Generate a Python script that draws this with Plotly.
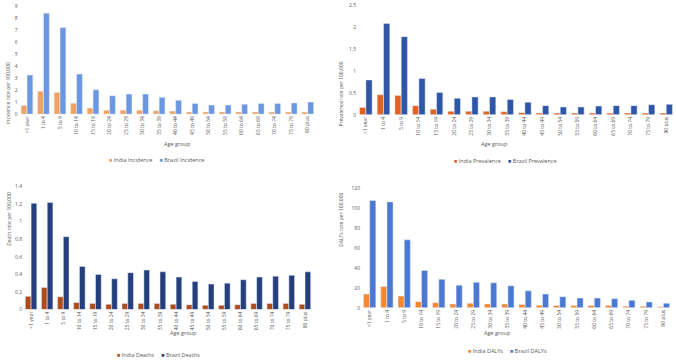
import plotly.graph_objects as go

# age groups shared by all four panels
age_groups = ["<1 year", "1 to 4", "5 to 9", "10 to 14", "15 to 19", "20 to 24",
              "25 to 29", "30 to 34", "35 to 39", "40 to 44", "45 to 49", "50 to 54",
              "55 to 59", "60 to 64", "65 to 69", "70 to 74", "75 to 79", "80 plus"]

india_incidence = [0.72, 1.9, 1.8, 0.9, 0.5, 0.33, 0.33, 0.33, 0.28, 0.25,
                   0.18, 0.18, 0.18, 0.18, 0.18, 0.18, 0.18, 0.18]
brazil_incidence = [3.25, 8.4, 7.2, 3.33, 2.02, 1.53, 1.67, 1.67, 1.4, 1.15,
                    0.88, 0.75, 0.75, 0.83, 0.88, 0.88, 0.93, 1.0]

india_prevalence = [0.17, 0.46, 0.44, 0.21, 0.13, 0.08, 0.08, 0.08, 0.07, 0.05,
                    0.04, 0.04, 0.04, 0.04, 0.04, 0.04, 0.04, 0.04]
brazil_prevalence = [0.8, 2.09, 1.79, 0.83, 0.51, 0.38, 0.41, 0.41, 0.35, 0.29,
                     0.21, 0.18, 0.18, 0.2, 0.21, 0.21, 0.23, 0.24]

india_deaths = [0.15, 0.25, 0.145, 0.08, 0.07, 0.06, 0.07, 0.07, 0.07, 0.06,
                0.055, 0.05, 0.05, 0.055, 0.07, 0.07, 0.07, 0.06]
brazil_deaths = [1.21, 1.22, 0.83, 0.49, 0.4, 0.35, 0.42, 0.45, 0.43, 0.37,
                 0.32, 0.29, 0.3, 0.34, 0.37, 0.38, 0.39, 0.43]

india_dalys = [13.8, 21.3, 11.8, 6.2, 5.2, 3.9, 4.6, 3.9, 3.9, 3.3,
               2.6, 2.3, 2.3, 2.3, 2.3, 1.6, 1.6, 1.0]
brazil_dalys = [107.5, 106, 68, 37.4, 28.5, 22.6, 25.6, 25, 22, 17,
                13.8, 11.1, 9.8, 9.8, 9.2, 7.5, 5.9, 4.6]

W, H = 676, 362
FONT = "Open Sans"
GREY = "#595959"


def px_x(v):
    return v / W


def px_y(v):
    return 1 - v / H


panels = [
    dict(india=india_incidence, brazil=brazil_incidence,
         names=("India Incidence", "Brazil Incidence"),
         colors=("#F4A15E", "#6B97E0"),
         x=(18.7, 316), y=(3, 113), rng=[0, 9], dtick=1,
         ytitle="Incidence rate per 100,000", ytx=3, yty=58,
         leg=(156, 160), age=(162, 143)),
    dict(india=india_prevalence, brazil=brazil_prevalence,
         names=("India Prevalence", "Brazil Prevalence"),
         colors=("#E4621F", "#2F56A6"),
         x=(357, 675), y=(2.7, 113.7), rng=[0, 2.5], dtick=0.5,
         ytitle="Prevalence rate per 100,000", ytx=341, yty=58,
         leg=(505, 161), age=(510, 143)),
    dict(india=india_deaths, brazil=brazil_deaths,
         names=("India Deaths", "Brazil Deaths"),
         colors=("#B04C1C", "#243F7C"),
         x=(23, 313), y=(186.7, 311.7), rng=[0, 1.4], dtick=0.2,
         ytitle="Death rate per 100,000", ytx=4, yty=249,
         leg=(158, 358), age=(168, 342)),
    dict(india=india_dalys, brazil=brazil_dalys,
         names=("India DALYs", "Brazil DALYs"),
         colors=("#F5872F", "#4A78D2"),
         x=(361, 672), y=(188, 310), rng=[0, 120], dtick=20,
         ytitle="DALYs rate per 100,000", ytx=341, yty=250,
         leg=(507, 354), age=(513, 342)),
]

fig = go.Figure()
annotations = []
small = dict(size=5, color=GREY, family=FONT)

for i, p in enumerate(panels, start=1):
    sfx = "" if i == 1 else str(i)
    for vals, name, col in zip((p["india"], p["brazil"]), p["names"], p["colors"]):
        fig.add_trace(go.Bar(x=age_groups, y=vals, name=name, marker_color=col,
                             xaxis="x" + sfx, yaxis="y" + sfx, showlegend=False))

    fig.layout["xaxis" + sfx] = dict(
        domain=[px_x(p["x"][0]), px_x(p["x"][1])], anchor="y" + sfx,
        tickmode="array", tickvals=age_groups, ticktext=age_groups,
        tickangle=-90, tickfont=small, showgrid=False, ticks="")
    fig.layout["yaxis" + sfx] = dict(
        domain=[px_y(p["y"][1]), px_y(p["y"][0])], anchor="x" + sfx,
        range=p["rng"], dtick=p["dtick"], showgrid=False, zeroline=False,
        tickfont=small, ticks="")

    # legend drawn as text so the swatches stay small like the original
    sp = "&nbsp;" * 5
    legend_text = (f'<span style="color:{p["colors"][0]}">■</span> {p["names"][0]}{sp}'
                   f'<span style="color:{p["colors"][1]}">■</span> {p["names"][1]}')
    annotations.append(dict(text=legend_text, x=px_x(p["leg"][0]), y=px_y(p["leg"][1]),
                            xref="paper", yref="paper", showarrow=False,
                            xanchor="center", yanchor="middle",
                            font=dict(size=5.5, color=GREY, family=FONT)))
    annotations.append(dict(text=p["ytitle"], x=px_x(p["ytx"]), y=px_y(p["yty"]),
                            xref="paper", yref="paper", showarrow=False,
                            textangle=-90, font=small))
    annotations.append(dict(text="Age group", x=px_x(p["age"][0]), y=px_y(p["age"][1]),
                            xref="paper", yref="paper", showarrow=False,
                            font=dict(size=5.5, color=GREY, family=FONT)))

fig.update_layout(
    width=W, height=H, margin=dict(l=0, r=0, t=0, b=0),
    paper_bgcolor="white", plot_bgcolor="white",
    barmode="group", bargap=0.28, bargroupgap=0.02,
    annotations=annotations, showlegend=False,
    font=dict(family=FONT, color=GREY),
)

# drop the browser's default page margin so the figure sits at the window's corner
fig.write_html("out.html", config={"displayModeBar": False},
               post_script="document.body.style.margin='0';")
